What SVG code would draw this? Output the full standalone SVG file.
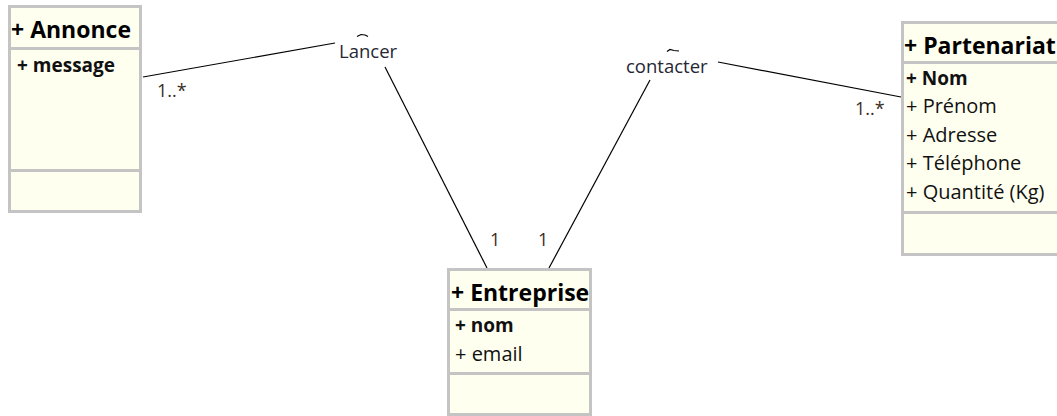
<svg xmlns="http://www.w3.org/2000/svg" width="1057" height="416" viewBox="0 0 1057 416">
  <style>
    .box { fill: #FFFFF0; stroke: #C4C4C4; stroke-width: 3; }
    .sep { stroke: #C4C4C4; stroke-width: 3; }
    .title { font-family: "Open Sans", "Liberation Sans", sans-serif; font-weight: bold; font-size: 23px; fill: #000; }
    .attr { font-family: "Open Sans", "Liberation Sans", sans-serif; font-size: 20px; fill: #111; }
    .key { font-weight: bold; font-size: 19px; }
    .label { font-family: "Open Sans", "Liberation Sans", sans-serif; font-size: 18.5px; fill: #262633; }
    .mult { font-family: "Open Sans", "Liberation Sans", sans-serif; font-size: 18px; fill: #3a2c1c; }
    .assoc { stroke: #000; stroke-width: 1.2; fill: none; }
  </style>
  <rect width="1057" height="416" fill="#FFFFFF"/>

  <!-- associations -->
  <g id="connectors">
    <line class="assoc" x1="143" y1="77" x2="335" y2="43"/>
    <line class="assoc" x1="385" y1="67" x2="487" y2="268"/>
    <line class="assoc" x1="650" y1="80" x2="549" y2="268"/>
    <line class="assoc" x1="718" y1="62" x2="901" y2="97"/>
    <path class="assoc" d="M357,36.5 L361,34.5 L365,35 L368,36.5"/>
    <path class="assoc" d="M667,51.5 L670,49.5 L674,50.5 L679,51"/>
    <text class="label" x="339" y="58">Lancer</text>
    <text class="label" x="626" y="73">contacter</text>
    <text class="mult" x="157" y="97">1..*</text>
    <text class="mult" x="855" y="115">1..*</text>
    <text class="mult" x="490" y="246">1</text>
    <text class="mult" x="538" y="246">1</text>
  </g>

  <!-- class Annonce -->
  <g id="annonce">
    <rect class="box" x="9.5" y="6.5" width="131" height="205"/>
    <line class="sep" x1="9.5" y1="48.5" x2="140.5" y2="48.5"/>
    <line class="sep" x1="9.5" y1="170.5" x2="140.5" y2="170.5"/>
    <text class="title" x="11" y="38">+ Annonce</text>
    <text class="attr key" x="17" y="72">+ message</text>
  </g>

  <!-- class Partenariat -->
  <g id="partenariat">
    <rect class="box" x="902.5" y="22.5" width="170" height="232"/>
    <line class="sep" x1="902.5" y1="62.5" x2="1072" y2="62.5"/>
    <line class="sep" x1="902.5" y1="212.5" x2="1072" y2="212.5"/>
    <text class="title" x="904" y="54">+ Partenariat</text>
    <text class="attr key" x="906" y="85">+ Nom</text>
    <text class="attr" x="906" y="113">+ Prénom</text>
    <text class="attr" x="906" y="142">+ Adresse</text>
    <text class="attr" x="906" y="170">+ Téléphone</text>
    <text class="attr" x="906" y="199">+ Quantité (Kg)</text>
  </g>

  <!-- class Entreprise -->
  <g id="entreprise">
    <rect class="box" x="448.5" y="269.5" width="142" height="145"/>
    <line class="sep" x1="448.5" y1="309.5" x2="590.5" y2="309.5"/>
    <line class="sep" x1="448.5" y1="373.5" x2="590.5" y2="373.5"/>
    <text class="title" x="451" y="301">+ Entreprise</text>
    <text class="attr key" x="455" y="332">+ nom</text>
    <text class="attr" x="455" y="361">+ email</text>
  </g>
</svg>
